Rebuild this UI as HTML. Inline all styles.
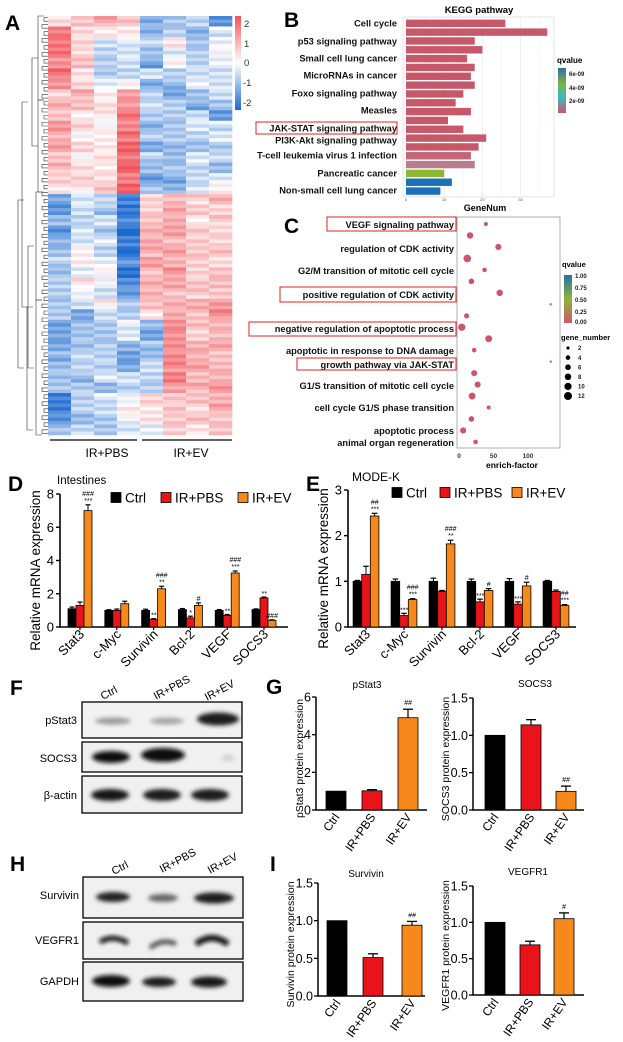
<!DOCTYPE html>
<html><head><meta charset="utf-8">
<style>
html,body{margin:0;padding:0;background:#fff;}
svg{display:block;font-family:"Liberation Sans",Arial,sans-serif;}
</style></head>
<body>
<svg id="fig" width="623" height="1042" viewBox="0 0 623 1042" xmlns="http://www.w3.org/2000/svg">
<defs>
<filter id="blur2" x="-30%" y="-80%" width="160%" height="260%"><feGaussianBlur stdDeviation="2.2"/></filter>
<linearGradient id="hmbar" x1="0" y1="0" x2="0" y2="1">
<stop offset="0" stop-color="#f0545a"/><stop offset="0.5" stop-color="#ffffff"/><stop offset="1" stop-color="#1b6ad0"/></linearGradient>
<linearGradient id="qbarB" x1="0" y1="0" x2="0" y2="1">
<stop offset="0" stop-color="#2a6fa8"/><stop offset="0.35" stop-color="#7cb342"/><stop offset="0.65" stop-color="#3cb8c8"/><stop offset="1" stop-color="#c9566a"/></linearGradient>
<linearGradient id="qbarC" x1="0" y1="0" x2="0" y2="1">
<stop offset="0" stop-color="#2a6fa8"/><stop offset="0.5" stop-color="#8db33a"/><stop offset="1" stop-color="#d0586a"/></linearGradient>
</defs>

<!-- Panel letters -->
<g font-weight="bold" font-size="21" fill="#000">
<text x="5" y="30">A</text>
<text x="284" y="27">B</text>
<text x="284" y="233">C</text>
<text x="8" y="491">D</text>
<text x="306" y="491">E</text>
<text x="10" y="695">F</text>
<text x="266" y="694">G</text>
<text x="10" y="871">H</text>
<text x="270" y="871">I</text>
</g>

<!-- Panel A -->
<g id="panelA">
<g id="dendro" stroke="#333" stroke-width="0.6" fill="none"></g>
<g id="hm"></g>
<rect x="235" y="16" width="6" height="94" fill="url(#hmbar)"/>
<g font-size="9.5" fill="#333">
<text x="244" y="27">2</text><text x="244" y="47">1</text><text x="244" y="66">0</text><text x="243" y="86">-1</text><text x="243" y="106">-2</text>
</g>
<line x1="50" y1="440" x2="137" y2="440" stroke="#000" stroke-width="1.2"/>
<line x1="142" y1="440" x2="232" y2="440" stroke="#000" stroke-width="1.2"/>
<text x="107" y="457" font-size="12" text-anchor="middle">IR+PBS</text>
<text x="191" y="457" font-size="12" text-anchor="middle">IR+EV</text>
</g>

<!-- Panel B -->
<g id="panelB">
<text x="479" y="13" font-size="9.5" font-weight="bold" text-anchor="middle">KEGG pathway</text>
<rect x="403" y="17" width="151" height="180" fill="#fff" stroke="#ddd" stroke-width="0.8"/>
<g id="bGrid"></g>
<g id="bBars"></g>
<g id="bLabels" font-size="9.3" font-weight="bold" text-anchor="end" fill="#111"></g>
<rect x="256" y="122" width="141" height="12" fill="none" stroke="#e02020" stroke-width="1"/>
<g id="bTicks" font-size="4" fill="#555" text-anchor="middle"></g>
<text x="485" y="211" font-size="9" font-weight="bold" text-anchor="middle">GeneNum</text>
<text x="557" y="63" font-size="8" font-weight="bold">qvalue</text>
<rect x="558" y="68" width="8" height="45" fill="url(#qbarB)"/>
<g font-size="6" font-weight="bold" fill="#222">
<text x="569" y="76">6e-09</text><text x="569" y="90">4e-09</text><text x="569" y="103">2e-09</text></g>
</g>

<!-- Panel C -->
<g id="panelC">
<rect x="457" y="217" width="103" height="231" fill="#fff" stroke="#999" stroke-width="0.8"/>
<g id="cLabels" font-size="9.3" font-weight="bold" text-anchor="end" fill="#111"></g>
<g fill="none" stroke="#e02020" stroke-width="1">
<rect x="327" y="217" width="129" height="14"/><rect x="280" y="287" width="176" height="15"/>
<rect x="249" y="322" width="207" height="14"/><rect x="297" y="358" width="159" height="12"/></g>
<g id="cDots"></g>
<g id="cTicks" font-size="6.5" font-weight="bold" fill="#333" text-anchor="middle"></g>
<text x="512" y="468" font-size="8.5" font-weight="bold" text-anchor="middle">enrich-factor</text>
<text x="562" y="267" font-size="7.5" font-weight="bold">qvalue</text>
<rect x="564" y="275" width="8" height="48" fill="url(#qbarC)"/>
<g font-size="6" font-weight="bold" fill="#222">
<text x="575" y="278">1.00</text><text x="575" y="290">0.75</text><text x="575" y="302">0.50</text><text x="575" y="314">0.25</text><text x="575" y="324">0.00</text></g>
<text x="561" y="340" font-size="7.5" font-weight="bold">gene_number</text>
<g id="cSizeLeg" font-size="6" font-weight="bold" fill="#222"></g>
</g>

<!-- Panel D/E/G/I via script -->
<g id="panelD"></g>
<g id="panelE"></g>
<g id="panelG1"></g>
<g id="panelG2"></g>
<g id="panelI1"></g>
<g id="panelI2"></g>

<!-- Panel F blots -->
<g id="panelF">
<g font-size="11">
<text transform="translate(103,700) rotate(-28)">Ctrl</text>
<text transform="translate(156,700) rotate(-28)">IR+PBS</text>
<text transform="translate(207,701) rotate(-28)">IR+EV</text></g>
<g font-size="11" text-anchor="end">
<text x="77" y="724">pStat3</text><text x="77" y="762">SOCS3</text><text x="77" y="799">β-actin</text></g>
<rect x="82" y="702" width="160" height="36" fill="#f2f2f2" stroke="#000" stroke-width="1.3"/>
<rect x="82" y="742" width="160" height="30" fill="#f0f0f0" stroke="#000" stroke-width="1.3"/>
<rect x="82" y="776" width="160" height="37" fill="#f0f0f0" stroke="#000" stroke-width="1.3"/>
<g filter="url(#blur2)">
<ellipse cx="113" cy="721" rx="18" ry="3.5" fill="#9a9a9a"/><ellipse cx="167" cy="721" rx="17" ry="3.5" fill="#a5a5a5"/><ellipse cx="218" cy="719" rx="21" ry="6.5" fill="#1a1a1a"/>
<ellipse cx="111" cy="757" rx="19" ry="6" fill="#111"/><ellipse cx="163" cy="755" rx="22" ry="7" fill="#0a0a0a"/><ellipse cx="228" cy="758" rx="6" ry="3" fill="#ccc"/>
<ellipse cx="110" cy="795" rx="19" ry="6" fill="#161616"/><ellipse cx="162" cy="795" rx="19" ry="6" fill="#1a1a1a"/><ellipse cx="210" cy="795" rx="19" ry="6" fill="#1a1a1a"/>
</g>
</g>

<!-- Panel H blots -->
<g id="panelH">
<g font-size="11">
<text transform="translate(114,875) rotate(-28)">Ctrl</text>
<text transform="translate(162,873) rotate(-28)">IR+PBS</text>
<text transform="translate(210,874) rotate(-28)">IR+EV</text></g>
<g font-size="11" text-anchor="end">
<text x="79" y="899">Survivin</text><text x="79" y="944">VEGFR1</text><text x="79" y="985">GAPDH</text></g>
<rect x="83" y="877" width="160" height="41" fill="#f0f0f0" stroke="#000" stroke-width="1.3"/>
<rect x="83" y="922" width="160" height="37" fill="#f0f0f0" stroke="#000" stroke-width="1.3"/>
<rect x="83" y="962" width="160" height="39" fill="#f0f0f0" stroke="#000" stroke-width="1.3"/>
<g filter="url(#blur2)">
<ellipse cx="113" cy="897" rx="17" ry="5" fill="#222"/><ellipse cx="163" cy="898" rx="15" ry="4" fill="#666"/><ellipse cx="214" cy="898" rx="20" ry="5.5" fill="#1a1a1a"/>
<path d="M100 942 Q113 934 128 943" stroke="#111" stroke-width="5" fill="none"/><path d="M150 948 Q162 938 176 944" stroke="#555" stroke-width="5" fill="none"/><path d="M196 944 Q212 932 228 944" stroke="#111" stroke-width="6" fill="none"/>
<ellipse cx="111" cy="981" rx="19" ry="6" fill="#111"/><ellipse cx="159" cy="982" rx="17" ry="5" fill="#1a1a1a"/><ellipse cx="209" cy="982" rx="18" ry="5.5" fill="#151515"/>
</g>
</g>
</svg>

<script>
// ---------------- Data ----------------
// Heatmap z-scores (rows x 8 samples)
const heatRows = [
[0.5,0.8,1.0,0.6,-1.2,-0.8,-0.6,-1.4],[1.4,0.4,0.2,0.3,-1.0,-0.5,-0.9,-0.3],[1.6,0.6,-0.3,-0.2,-0.6,0.2,-0.8,-0.2],
[1.5,0.3,-0.6,-0.4,-0.8,-0.3,-0.5,0.1],[1.3,0.8,-0.5,-0.3,-1.2,0.0,-0.7,-0.2],[1.6,0.2,-0.8,-0.6,-0.4,-0.6,-0.4,-0.3],
[1.2,0.5,-0.2,0.2,-1.0,-0.9,-0.3,-0.5],[0.6,0.9,0.1,1.0,-0.6,-1.2,-0.8,-0.4],[0.9,0.7,0.4,1.2,-0.3,-0.5,-1.1,-0.9],
[0.8,0.3,0.2,1.5,-0.8,-0.7,-0.5,-1.3],[1.1,0.5,0.0,1.4,-1.0,-0.6,-0.2,-0.4],[0.9,0.2,0.3,1.6,-0.7,-0.8,-0.6,-0.3],
[1.0,0.4,0.2,1.8,-1.1,-0.9,-0.7,-0.6],[0.7,0.1,0.5,1.7,-0.6,-1.0,-0.4,-0.5],[0.8,0.3,0.1,1.9,-0.9,-0.7,-0.5,-0.8],
[0.5,0.6,0.4,1.6,-1.2,-1.1,-0.6,-0.4],[0.4,0.2,0.6,1.8,-0.8,-1.0,-0.3,0.2],
[-1.2,-0.4,-0.5,-1.6,0.6,0.9,0.5,0.8],[-1.3,-0.3,-0.8,-1.9,0.4,1.0,0.6,0.5],[-1.0,-0.6,-0.4,-1.5,0.7,1.1,0.3,0.6],
[-1.4,-0.2,-0.7,-2.0,0.8,1.0,0.6,0.4],[-1.1,-0.5,-0.3,-1.7,1.0,0.8,0.7,0.6],[-0.8,0.2,-0.5,-1.9,0.9,1.0,0.5,0.7],
[-0.6,0.1,-0.3,-1.4,1.1,0.9,0.6,0.5],[-0.9,-0.2,0.1,-1.8,0.8,1.2,0.4,0.6],[-0.5,0.3,-0.2,-1.6,0.9,1.0,0.7,0.8],
[-0.7,-0.1,-0.4,-1.3,1.0,0.8,0.6,0.5],[-0.6,-0.3,0.2,-0.8,0.6,0.9,0.9,1.2],[-0.8,-1.2,-0.5,-0.6,0.3,1.1,0.8,1.3],
[-1.2,-0.7,-0.6,-0.2,-1.0,1.2,0.7,0.8],[-1.3,-0.9,-0.8,-0.3,-1.2,1.3,0.6,0.9],[-1.1,-0.8,-0.5,-0.9,-0.8,1.2,0.8,1.0],
[-1.0,-0.6,-0.7,-1.3,-0.9,1.4,0.9,0.8],[-0.9,-0.5,-0.6,-1.0,-0.3,1.3,1.0,0.7],[-0.7,-0.9,-0.4,-0.5,-0.6,1.5,0.8,0.9],
[-0.8,-0.7,-0.9,-0.6,-0.5,1.2,0.9,1.1],[-1.6,-0.5,-0.3,-0.2,0.4,0.6,0.7,0.9],[-1.8,-0.6,-0.5,0.3,0.3,0.8,0.5,1.0],
[-1.4,-0.8,-0.6,-0.1,0.2,0.5,0.7,0.6],[-0.9,-0.6,-0.8,-0.4,-0.2,0.6,0.4,0.8]];

// KEGG
const keggCounts = [26,37,18,20,16,18,17,18,15,13,17,11,15,21,19,17,18,10,12,9];
const keggQ = [0.3,0.3,0.3,0.3,0.3,0.3,0.3,0.3,0.3,0.3,0.3,0.3,0.3,0.3,0.4,0.6,0.9,4.5,6.2,6.4];
const keggLabels = ["Cell cycle","p53 signaling pathway","Small cell lung cancer","MicroRNAs in cancer","Foxo signaling pathway","Measles","JAK-STAT signaling pathway","PI3K-Akt signaling pathway","T-cell leukemia virus 1 infection","Pancreatic cancer","Non-small cell lung cancer"];
const keggLabelY = [23,41,58,75,93,110,128,140,155,173,190];
const keggTicks = [0,10,20,30];

// GO dot plot
const goEnrich = [39,16,57,12,37,18,59,133,11,4,43,22,133,22,27,19,43,18,6,24];
const goGeneNum = [3,8,7,11,4,6,8,1,5,10,9,4,1,7,7,9,3,6,7,4];
const goLabels = ["VEGF signaling pathway","regulation of CDK activity","G2/M transition of mitotic cell cycle","positive regulation of CDK activity","negative regulation of apoptotic process","apoptotic in response to DNA damage","growth pathway via JAK-STAT","G1/S transition of mitotic cell cycle","cell cycle G1/S phase transition","apoptotic process","animal organ regeneration"];
const goLabelY = [228,252,274,298,332,354,368,389,411,434,446];
const goTicks = [0,50,100];
const goSizeLegend = [2,4,6,8,10,12];

// mRNA charts
const genes = ["Stat3","c-Myc","Survivin","Bcl-2","VEGF","SOCS3"];
const groups = ["Ctrl","IR+PBS","IR+EV"];
const dCtrl = [1.1,1.0,1.0,1.05,1.0,1.05];
const dPBS  = [1.3,1.0,0.45,0.55,0.7,1.75];
const dEV   = [7.0,1.4,2.3,1.3,3.25,0.4];
const dCtrlErr = [0.1,0.04,0.07,0.06,0.05,0.04];
const dPBSErr  = [0.2,0.08,0.05,0.1,0.05,0.05];
const dEVErr   = [0.35,0.15,0.15,0.15,0.12,0.03];
const dTicks = [0,2,4,6,8];
const dNotesPBS = ["","","**","*","**","**"];
const dNotesEV  = [["###","***"],[],["###","**"],["#"],["###","***"],["###"]];
const eCtrl = [1,1,1,1,1,1];
const ePBS  = [1.15,0.25,0.78,0.55,0.5,0.78];
const eEV   = [2.43,0.6,1.82,0.8,0.9,0.47];
const eCtrlErr = [0.02,0.05,0.07,0.05,0.06,0.02];
const ePBSErr  = [0.18,0.05,0.02,0.06,0.05,0.03];
const eEVErr   = [0.06,0.02,0.08,0.04,0.08,0.02];
const eTicks = [0,1,2,3];
const eNotesPBS = ["","***","","***","***",""];
const eNotesEV  = [["##","***"],["###","***"],["###","**"],["#"],["#"],["##","***"]];

// protein charts
const pstat3Vals = [1,1.02,4.9];  const pstat3Err = [0,0.06,0.45]; const pstat3Ticks=[0,2,4,6];
const socs3Vals = [1,1.14,0.25];  const socs3Err = [0,0.07,0.07];  const socs3Ticks=[0,0.5,1.0,1.5];
const survVals = [1,0.51,0.94];   const survErr = [0,0.05,0.05];   const survTicks=[0,0.5,1.0,1.5];
const vegfrVals = [1,0.69,1.05];  const vegfrErr = [0,0.05,0.08];  const vegfrTicks=[0,0.5,1.0,1.5];
const proteinNotes = {pstat3:"##", socs3:"##", surv:"##", vegfr:"#"};

// ---------------- Helpers ----------------
const NS="http://www.w3.org/2000/svg";
function mk(parent, tag, attrs, txt){
  const e=document.createElementNS(NS,tag);
  for(const k in attrs) e.setAttribute(k,attrs[k]);
  if(txt!==undefined) e.textContent=txt;
  parent.appendChild(e); return e;
}
function lerp(a,b,t){return a+(b-a)*t;}
function heatColor(v){
  const t=Math.max(-1,Math.min(1,v/2));
  let r,g,b;
  if(t>=0){r=lerp(255,240,t);g=lerp(255,84,t);b=lerp(255,90,t);}
  else{const s=-t;r=lerp(255,27,s);g=lerp(255,106,s);b=lerp(255,208,s);}
  return `rgb(${r|0},${g|0},${b|0})`;
}

// ---------------- Panel A ----------------
(function(){
  const g=document.getElementById('hm');
  const x0=48,x1=232,y0=16,y1=435;
  const cw=(x1-x0)/8, rh=(y1-y0)/heatRows.length;
  heatRows.forEach((row,i)=>{
    row.forEach((v,j)=>{
      const sub=3;
      for(let s=0;s<sub;s++){
        const jitter=((i*7+j*13+s*5)%9-4)*0.08;
        const r=mk(g,'rect',{x:(x0+j*cw).toFixed(2),y:(y0+i*rh+s*rh/sub).toFixed(2),width:(cw+0.3).toFixed(2),height:(rh/sub+0.3).toFixed(2),fill:heatColor(v+jitter)});
        
        
      }
    });
  });
  const d=document.getElementById('dendro');
  const n=heatRows.length*3, rh2=(y1-y0)/n;
  for(let i=0;i<n;i+=2){
    const ya=y0+(i+0.5)*rh2, yb=y0+(i+1.5)*rh2;
    const xa=44-((i*3)%4);
    const p=mk(d,'path',{d:`M48 ${ya.toFixed(1)} H${xa} V${yb.toFixed(1)} H48`});
    
    
  }
  const br=[[16,100,38],[100,192,38],[58,146,32],[192,300,36],[300,435,36],[246,368,28],[102,307,22],[307,430,27],[200,368,18]];
  br.forEach(b=>{
    const p=mk(d,'path',{d:`M${b[2]+6} ${b[0]} H${b[2]} V${b[1]} H${b[2]+6}`});
    
    
  });
})();

// ---------------- Panel B ----------------
(function(){
  const x0=406, pxPer=3.82, yTop=23.3, step=8.83, bh=7.4;
  const xs=v=>x0+v*pxPer;
  const grid=document.getElementById('bGrid');
  [0,5,10,15,20,25,30,35].forEach(v=>{
    const l=mk(grid,'line',{x1:xs(v),x2:xs(v),y1:17,y2:197,stroke:v%10?'#f3f3f3':'#e6e6e6','stroke-width':0.6});
    
    
  });
  const bars=document.getElementById('bBars');
  function qColor(q){
    if(q<0.5) return '#c6586a';
    if(q<0.8) return '#c26778';
    if(q<1.5) return '#b87c8c';
    if(q<5) return '#8cb832';
    return '#1b70ba';
  }
  keggCounts.forEach((v,i)=>{
    const r=mk(bars,'rect',{x:x0,y:(yTop+i*step-bh/2).toFixed(2),width:(xs(v)-x0).toFixed(2),height:bh,fill:qColor(keggQ[i])});
    
    
  });
  const lg=document.getElementById('bLabels');
  keggLabels.forEach((t,i)=>{
    const e=mk(lg,'text',{x:397,y:keggLabelY[i]+3.3},t);
    
    
  });
  const tg=document.getElementById('bTicks');
  keggTicks.forEach(v=>{
    const e=mk(tg,'text',{x:xs(v),y:201},String(v));
    
    
  });
})();

// ---------------- Panel C ----------------
(function(){
  const x0=459, per=0.69, yTop=224, step=11.47;
  const xs=v=>x0+v*per;
  const dg=document.getElementById('cDots');
  goEnrich.forEach((v,i)=>{
    const c=mk(dg,'circle',{cx:xs(v).toFixed(2),cy:(yTop+i*step).toFixed(2),r:(1.15*Math.sqrt(goGeneNum[i])).toFixed(2),fill:'#c9566a'});
    
    
  });
  const lg=document.getElementById('cLabels');
  goLabels.forEach((t,i)=>{
    const e=mk(lg,'text',{x:454,y:goLabelY[i]},t);
    
    
  });
  const tg=document.getElementById('cTicks');
  goTicks.forEach(v=>{
    const e=mk(tg,'text',{x:xs(v),y:458},String(v));
    
    
  });
  const sl=document.getElementById('cSizeLeg');
  goSizeLegend.forEach((v,i)=>{
    const y=348+i*9.6;
    const c=mk(sl,'circle',{cx:568,cy:y,r:(1.15*Math.sqrt(v)).toFixed(2),fill:'#000'});
    
    
    const t=mk(sl,'text',{x:578,y:y+2.2},String(v));
    
    
  });
})();

// ---------------- Grouped bar charts (D, E) ----------------
const COLORS=['#000000','#e8141a','#f7881c'];
function groupedChart(gid,cfg,series,errs,ticks,notesPBS,notesEV){
  const g=document.getElementById(gid);
  const ys=v=>cfg.y0-(v/cfg.vmax)*(cfg.y0-cfg.yTop);
  const ax=mk(g,'path',{d:`M${cfg.ax} ${cfg.yTop} V${cfg.y0} H${cfg.xEnd}`,stroke:'#000','stroke-width':1.6,fill:'none'});
  
  
  ticks.forEach(t=>{
    const l=mk(g,'line',{x1:cfg.ax-4,x2:cfg.ax,y1:ys(t),y2:ys(t),stroke:'#000','stroke-width':1.4});
    
    
    const e=mk(g,'text',{x:cfg.ax-6,y:ys(t)+4.5,'font-size':13,'text-anchor':'end'},String(t));
    
    
  });
  const yt=mk(g,'text',{transform:`translate(${cfg.ax-20},${(cfg.y0+cfg.yTop)/2+10}) rotate(-90)`,'font-size':13.5,'text-anchor':'middle'},'Relative mRNA expression');
  
  
  genes.forEach((gn,i)=>{
    const cx=cfg.x0+(i+0.5)*cfg.step;
    const l=mk(g,'line',{x1:cx,x2:cx,y1:cfg.y0,y2:cfg.y0+3,stroke:'#000','stroke-width':1.2});
    
    
    const t=mk(g,'text',{transform:`translate(${cx+5},${cfg.y0+8}) rotate(-45)`,'font-size':13,'text-anchor':'end'},gn);
    
    
    series.forEach((s,k)=>{
      const bx=cx+(k-1)*cfg.bw-cfg.bw/2;
      const top=ys(s[i]), et=ys(s[i]+errs[k][i]);
      const el=mk(g,'line',{x1:bx+cfg.bw/2,x2:bx+cfg.bw/2,y1:top,y2:et,stroke:'#000','stroke-width':1});
      
      
      const ec=mk(g,'line',{x1:bx+1.5,x2:bx+cfg.bw-1.5,y1:et,y2:et,stroke:'#000','stroke-width':1.2});
      
      
      const r=mk(g,'rect',{x:bx.toFixed(2),y:top.toFixed(2),width:cfg.bw,height:(cfg.y0-top).toFixed(2),fill:COLORS[k],stroke:'#000','stroke-width':0.8});
      
      
      if(k===1 && notesPBS[i]){
        const a=mk(g,'text',{x:bx+cfg.bw/2,y:et-1,'font-size':7,'text-anchor':'middle','font-style':'italic'},notesPBS[i]);
        
        
      }
      if(k===2){
        const arr=notesEV[i];
        arr.forEach((txt,m)=>{
          const a=mk(g,'text',{x:bx+cfg.bw/2,y:et-2-(arr.length-1-m)*7,'font-size':7,'text-anchor':'middle','font-style':'italic'},txt);
          
          
        });
      }
    });
  });
  cfg.legend.forEach((lx,k)=>{
    const r=mk(g,'rect',{x:lx,y:cfg.legY-5.5,width:10,height:10,fill:COLORS[k],stroke:'#000','stroke-width':0.8});
    
    
    const t=mk(g,'text',{x:lx+14,y:cfg.legY+4.5,'font-size':13.5},groups[k]);
    
    
  });
  const ttl=mk(g,'text',{x:cfg.titleX,y:cfg.titleY,'font-size':cfg.titleSize},cfg.title);
  
  
}
groupedChart('panelD',{ax:60,yTop:494,y0:627,vmax:8,xEnd:288,x0:61.6,step:36.8,bw:8,legend:[111,161,238],legY:498,title:'Intestines',titleX:57,titleY:484,titleSize:11.5},
  [dCtrl,dPBS,dEV],[dCtrlErr,dPBSErr,dEVErr],dTicks,dNotesPBS,dNotesEV);
groupedChart('panelE',{ax:348,yTop:490,y0:627,vmax:3,xEnd:576,x0:347,step:38,bw:8.6,legend:[392,440,512],legY:493,title:'MODE-K',titleX:352,titleY:481,titleSize:12},
  [eCtrl,ePBS,eEV],[eCtrlErr,ePBSErr,eEVErr],eTicks,eNotesPBS,eNotesEV);

// ---------------- Protein bar charts (G, I) ----------------
function proteinChart(gid,cfg,vals,errs,ticks,note){
  const g=document.getElementById(gid);
  const ys=v=>cfg.y0-(v/cfg.vmax)*(cfg.y0-cfg.yTop);
  const ax=mk(g,'path',{d:`M${cfg.ax} ${cfg.yTop} V${cfg.y0} H${cfg.xEnd}`,stroke:'#000','stroke-width':1.5,fill:'none'});
  
  
  ticks.forEach(t=>{
    const l=mk(g,'line',{x1:cfg.ax-4,x2:cfg.ax,y1:ys(t),y2:ys(t),stroke:'#000','stroke-width':1.3});
    
    
    const e=mk(g,'text',{x:cfg.ax-5,y:ys(t)+4.5,'font-size':12.5,'text-anchor':'end'},cfg.dec?t.toFixed(1):String(t));
    
    
  });
  const yt=mk(g,'text',{transform:`translate(${cfg.ax-cfg.titleOff},${(cfg.y0+cfg.yTop)/2+5}) rotate(-90)`,'font-size':10.5,'text-anchor':'middle'},cfg.ytitle);
  
  
  const ttl=mk(g,'text',{x:cfg.tx,y:cfg.ty,'font-size':10,'text-anchor':'middle'},cfg.title);
  
  
  vals.forEach((v,k)=>{
    const cx=cfg.centers[k];
    const top=ys(v), et=ys(v+errs[k]);
    if(errs[k]>0){
      const el=mk(g,'line',{x1:cx,x2:cx,y1:top,y2:et,stroke:'#000','stroke-width':1.2});
      
      
      const ec=mk(g,'line',{x1:cx-5,x2:cx+5,y1:et,y2:et,stroke:'#000','stroke-width':1.3});
      
      
    }
    const r=mk(g,'rect',{x:cx-10,y:top.toFixed(2),width:20,height:(cfg.y0-top).toFixed(2),fill:COLORS[k],stroke:'#000','stroke-width':0.8});
    
    
    const t=mk(g,'text',{transform:`translate(${cx+4},${cfg.y0+7}) rotate(-55)`,'font-size':12,'text-anchor':'end'},groups[k]);
    
    
    if(k===2){
      const a=mk(g,'text',{x:cx,y:et-4,'font-size':7,'text-anchor':'middle','font-style':'italic'},note);
      
      
    }
  });
}
proteinChart('panelG1',{ax:316,yTop:697,y0:810,vmax:6,xEnd:427,centers:[336,372,408],ytitle:'pStat3 protein expression',titleOff:13,title:'pStat3',tx:367,ty:688,dec:false},pstat3Vals,pstat3Err,pstat3Ticks,proteinNotes.pstat3);
proteinChart('panelG2',{ax:473,yTop:698,y0:810,vmax:1.5,xEnd:584,centers:[495,531,566],ytitle:'SOCS3 protein expression',titleOff:24,title:'SOCS3',tx:535,ty:687,dec:true},socs3Vals,socs3Err,socs3Ticks,proteinNotes.socs3);
proteinChart('panelI1',{ax:318,yTop:883,y0:996,vmax:1.5,xEnd:425,centers:[337,373,412],ytitle:'Survivin protein expression',titleOff:24,title:'Survivin',tx:366,ty:877,dec:true},survVals,survErr,survTicks,proteinNotes.surv);
proteinChart('panelI2',{ax:473,yTop:886,y0:995,vmax:1.5,xEnd:584,centers:[495,530,564],ytitle:'VEGFR1 protein expression',titleOff:24,title:'VEGFR1',tx:528,ty:875,dec:true},vegfrVals,vegfrErr,vegfrTicks,proteinNotes.vegfr);
</script>
</body></html>
